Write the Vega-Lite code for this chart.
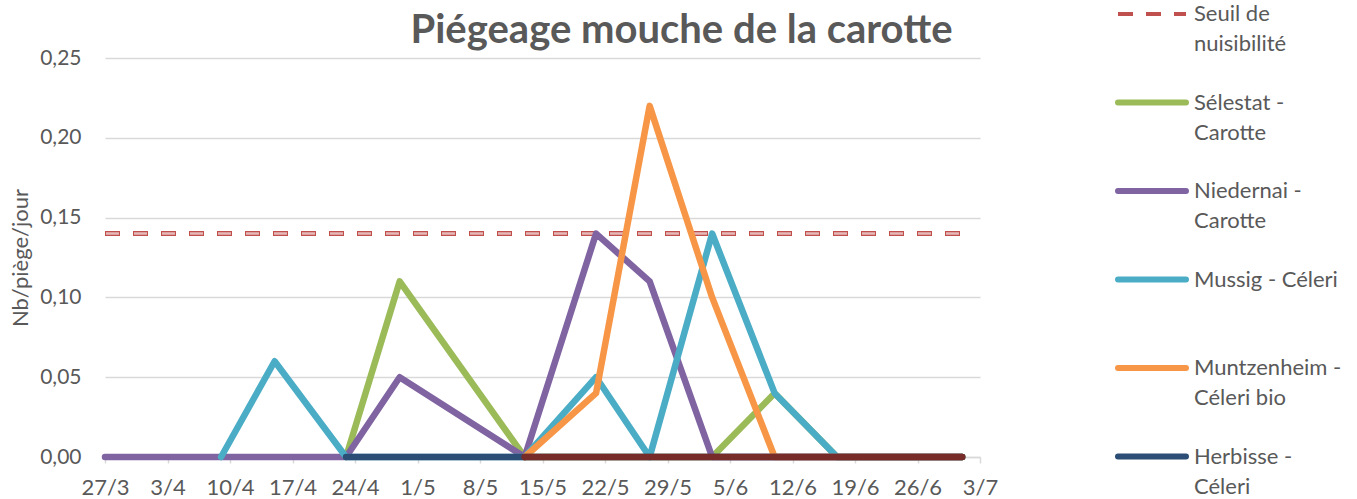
{
  "$schema": "https://vega.github.io/schema/vega-lite/v6.json",
  "width": 875,
  "height": 399,
  "autosize": {"type": "none"},
  "padding": {"left": 105, "top": 58, "right": 377, "bottom": 42},
  "background": "white",
  "config": {"view": {"stroke": null}, "font": "Lato"},
  "title": {
    "text": "Piégeage mouche de la carotte",
    "font": "Lato",
    "fontSize": 40,
    "fontWeight": "bold",
    "color": "#595959",
    "anchor": "middle",
    "frame": "group",
    "dx": 139,
    "baseline": "alphabetic",
    "offset": 0,
    "dy": 80
  },
  "data": {
    "values": [
      {"date": "2017-03-27", "serie": "Seuil de nuisibilité", "value": 0.14},
      {"date": "2017-07-01", "serie": "Seuil de nuisibilité", "value": 0.14},

      {"date": "2017-04-23", "serie": "Sélestat - Carotte", "value": 0},
      {"date": "2017-04-29", "serie": "Sélestat - Carotte", "value": 0.11},
      {"date": "2017-05-13", "serie": "Sélestat - Carotte", "value": 0},
      {"date": "2017-05-21", "serie": "Sélestat - Carotte", "value": 0},
      {"date": "2017-05-27", "serie": "Sélestat - Carotte", "value": 0},
      {"date": "2017-06-03", "serie": "Sélestat - Carotte", "value": 0},
      {"date": "2017-06-10", "serie": "Sélestat - Carotte", "value": 0.04},
      {"date": "2017-06-17", "serie": "Sélestat - Carotte", "value": 0},
      {"date": "2017-06-24", "serie": "Sélestat - Carotte", "value": 0},
      {"date": "2017-07-01", "serie": "Sélestat - Carotte", "value": 0},

      {"date": "2017-03-27", "serie": "Niedernai - Carotte", "value": 0},
      {"date": "2017-04-03", "serie": "Niedernai - Carotte", "value": 0},
      {"date": "2017-04-09", "serie": "Niedernai - Carotte", "value": 0},
      {"date": "2017-04-15", "serie": "Niedernai - Carotte", "value": 0},
      {"date": "2017-04-23", "serie": "Niedernai - Carotte", "value": 0},
      {"date": "2017-04-29", "serie": "Niedernai - Carotte", "value": 0.05},
      {"date": "2017-05-13", "serie": "Niedernai - Carotte", "value": 0},
      {"date": "2017-05-21", "serie": "Niedernai - Carotte", "value": 0.14},
      {"date": "2017-05-27", "serie": "Niedernai - Carotte", "value": 0.11},
      {"date": "2017-06-03", "serie": "Niedernai - Carotte", "value": 0},
      {"date": "2017-06-10", "serie": "Niedernai - Carotte", "value": 0},
      {"date": "2017-06-17", "serie": "Niedernai - Carotte", "value": 0},
      {"date": "2017-06-24", "serie": "Niedernai - Carotte", "value": 0},
      {"date": "2017-07-01", "serie": "Niedernai - Carotte", "value": 0},

      {"date": "2017-04-09", "serie": "Mussig - Céleri", "value": 0},
      {"date": "2017-04-15", "serie": "Mussig - Céleri", "value": 0.06},
      {"date": "2017-04-23", "serie": "Mussig - Céleri", "value": 0},
      {"date": "2017-04-29", "serie": "Mussig - Céleri", "value": 0},
      {"date": "2017-05-13", "serie": "Mussig - Céleri", "value": 0},
      {"date": "2017-05-21", "serie": "Mussig - Céleri", "value": 0.05},
      {"date": "2017-05-27", "serie": "Mussig - Céleri", "value": 0},
      {"date": "2017-06-03", "serie": "Mussig - Céleri", "value": 0.14},
      {"date": "2017-06-10", "serie": "Mussig - Céleri", "value": 0.04},
      {"date": "2017-06-17", "serie": "Mussig - Céleri", "value": 0},
      {"date": "2017-06-24", "serie": "Mussig - Céleri", "value": 0},
      {"date": "2017-07-01", "serie": "Mussig - Céleri", "value": 0},

      {"date": "2017-05-13", "serie": "Muntzenheim - Céleri bio", "value": 0},
      {"date": "2017-05-21", "serie": "Muntzenheim - Céleri bio", "value": 0.04},
      {"date": "2017-05-27", "serie": "Muntzenheim - Céleri bio", "value": 0.22},
      {"date": "2017-06-03", "serie": "Muntzenheim - Céleri bio", "value": 0.10},
      {"date": "2017-06-10", "serie": "Muntzenheim - Céleri bio", "value": 0},
      {"date": "2017-06-17", "serie": "Muntzenheim - Céleri bio", "value": 0},
      {"date": "2017-06-24", "serie": "Muntzenheim - Céleri bio", "value": 0},
      {"date": "2017-07-01", "serie": "Muntzenheim - Céleri bio", "value": 0},

      {"date": "2017-04-23", "serie": "Herbisse - Céleri", "value": 0},
      {"date": "2017-04-29", "serie": "Herbisse - Céleri", "value": 0},
      {"date": "2017-05-13", "serie": "Herbisse - Céleri", "value": 0},
      {"date": "2017-05-21", "serie": "Herbisse - Céleri", "value": 0},
      {"date": "2017-05-27", "serie": "Herbisse - Céleri", "value": 0},
      {"date": "2017-06-03", "serie": "Herbisse - Céleri", "value": 0},
      {"date": "2017-06-10", "serie": "Herbisse - Céleri", "value": 0},
      {"date": "2017-06-17", "serie": "Herbisse - Céleri", "value": 0},
      {"date": "2017-06-24", "serie": "Herbisse - Céleri", "value": 0},
      {"date": "2017-07-01", "serie": "Herbisse - Céleri", "value": 0},

      {"date": "2017-05-13", "serie": "Série 7", "value": 0},
      {"date": "2017-05-21", "serie": "Série 7", "value": 0},
      {"date": "2017-05-27", "serie": "Série 7", "value": 0},
      {"date": "2017-06-03", "serie": "Série 7", "value": 0},
      {"date": "2017-06-10", "serie": "Série 7", "value": 0},
      {"date": "2017-06-17", "serie": "Série 7", "value": 0},
      {"date": "2017-06-24", "serie": "Série 7", "value": 0},
      {"date": "2017-07-01", "serie": "Série 7", "value": 0}
    ]
  },
  "encoding": {
    "x": {
      "field": "date",
      "type": "temporal",
      "title": null,
      "scale": {
        "type": "utc",
        "domain": [
          {"year": 2017, "month": 3, "date": 27, "utc": true},
          {"year": 2017, "month": 7, "date": 3, "utc": true}
        ]
      },
      "axis": {
        "values": [
          {"year": 2017, "month": 3, "date": 27, "utc": true},
          {"year": 2017, "month": 4, "date": 3, "utc": true},
          {"year": 2017, "month": 4, "date": 10, "utc": true},
          {"year": 2017, "month": 4, "date": 17, "utc": true},
          {"year": 2017, "month": 4, "date": 24, "utc": true},
          {"year": 2017, "month": 5, "date": 1, "utc": true},
          {"year": 2017, "month": 5, "date": 8, "utc": true},
          {"year": 2017, "month": 5, "date": 15, "utc": true},
          {"year": 2017, "month": 5, "date": 22, "utc": true},
          {"year": 2017, "month": 5, "date": 29, "utc": true},
          {"year": 2017, "month": 6, "date": 5, "utc": true},
          {"year": 2017, "month": 6, "date": 12, "utc": true},
          {"year": 2017, "month": 6, "date": 19, "utc": true},
          {"year": 2017, "month": 6, "date": 26, "utc": true},
          {"year": 2017, "month": 7, "date": 3, "utc": true}
        ],
        "format": "%-d/%-m",
        "grid": false,
        "labelFont": "Lato",
        "labelFontSize": 22,
        "labelColor": "#595959",
        "labelPadding": 14,
        "labelFlush": false,
        "labelOverlap": false,
        "domainColor": "#D9D9D9",
        "domainWidth": 1.5,
        "tickColor": "#D9D9D9",
        "tickWidth": 1.5,
        "tickSize": 6
      }
    },
    "y": {
      "field": "value",
      "type": "quantitative",
      "title": "Nb/piège/jour",
      "scale": {"domain": [0, 0.25]},
      "axis": {
        "values": [0, 0.05, 0.1, 0.15, 0.2, 0.25],
        "labelExpr": "replace(format(datum.value, '.2f'), '.', ',')",
        "domain": false,
        "ticks": false,
        "tickSize": 0,
        "gridColor": "#D9D9D9",
        "gridWidth": 1.5,
        "labelFont": "Lato",
        "labelFontSize": 21,
        "labelColor": "#595959",
        "labelPadding": 24,
        "titleFont": "Lato",
        "titleFontSize": 22,
        "titleFontWeight": "normal",
        "titleColor": "#595959",
        "titleX": -85,
        "titleY": 199.5,
        "titleAngle": -90,
        "titleAlign": "center",
        "titleBaseline": "middle"
      }
    },
    "color": {
      "field": "serie",
      "type": "nominal",
      "scale": {
        "domain": ["Seuil de nuisibilité", "Sélestat - Carotte", "Niedernai - Carotte", "Mussig - Céleri", "Muntzenheim - Céleri bio", "Herbisse - Céleri", "Série 7"],
        "range": ["#C0504D", "#9BBB59", "#8064A2", "#4BACC6", "#F79646", "#2C4D75", "#772C2A"]
      },
      "legend": {
        "title": null,
        "orient": "none",
        "legendX": 1036,
        "legendY": -55,
        "padding": 0,
        "values": ["Seuil de nuisibilité", "Sélestat - Carotte", "Niedernai - Carotte", "Mussig - Céleri", "Muntzenheim - Céleri bio", "Herbisse - Céleri"],
        "symbolType": "stroke",
        "symbolSize": 4624,
        "symbolStrokeWidth": 6,
        "labelFont": "Lato",
        "labelFontSize": 22,
        "labelColor": "#595959",
        "labelOffset": 31,
        "labelLimit": 400,
        "rowPadding": 35.5,
        "labelExpr": "datum.label === 'Seuil de nuisibilité' ? ['Seuil de', 'nuisibilité'] : datum.label === 'Sélestat - Carotte' ? ['Sélestat -', 'Carotte'] : datum.label === 'Niedernai - Carotte' ? ['Niedernai -', 'Carotte'] : datum.label === 'Mussig - Céleri' ? ['Mussig - Céleri', ' '] : datum.label === 'Muntzenheim - Céleri bio' ? ['Muntzenheim -', 'Céleri bio'] : datum.label === 'Herbisse - Céleri' ? ['Herbisse -', 'Céleri'] : datum.label",
        "encode": {
          "symbols": {
            "update": {
              "strokeDash": {"signal": "datum.value === 'Seuil de nuisibilité' ? [15, 13] : [1, 0]"},
              "strokeWidth": {"signal": "datum.value === 'Seuil de nuisibilité' ? 4 : 6"},
              "strokeCap": {"signal": "datum.value === 'Seuil de nuisibilité' ? 'butt' : 'round'"}
            }
          },
          "labels": {
            "update": {
              "lineHeight": {"value": 30}
            }
          }
        }
      }
    }
  },
  "layer": [
    {
      "transform": [{"filter": "datum.serie === 'Seuil de nuisibilité'"}],
      "mark": {"type": "line", "strokeWidth": 5, "strokeDash": [15, 13], "strokeCap": "butt"}
    },
    {
      "transform": [{"filter": "datum.serie === 'Seuil de nuisibilité'"}],
      "mark": {"type": "line", "strokeWidth": 2.5, "strokeDash": [13, 15], "strokeDashOffset": -1, "strokeCap": "butt"},
      "encoding": {"color": {"value": "#E6B9B8"}}
    },
    {
      "transform": [{"filter": "datum.serie !== 'Seuil de nuisibilité'"}],
      "mark": {"type": "line", "strokeWidth": 6.5, "strokeCap": "round", "strokeJoin": "round"}
    }
  ]
}
